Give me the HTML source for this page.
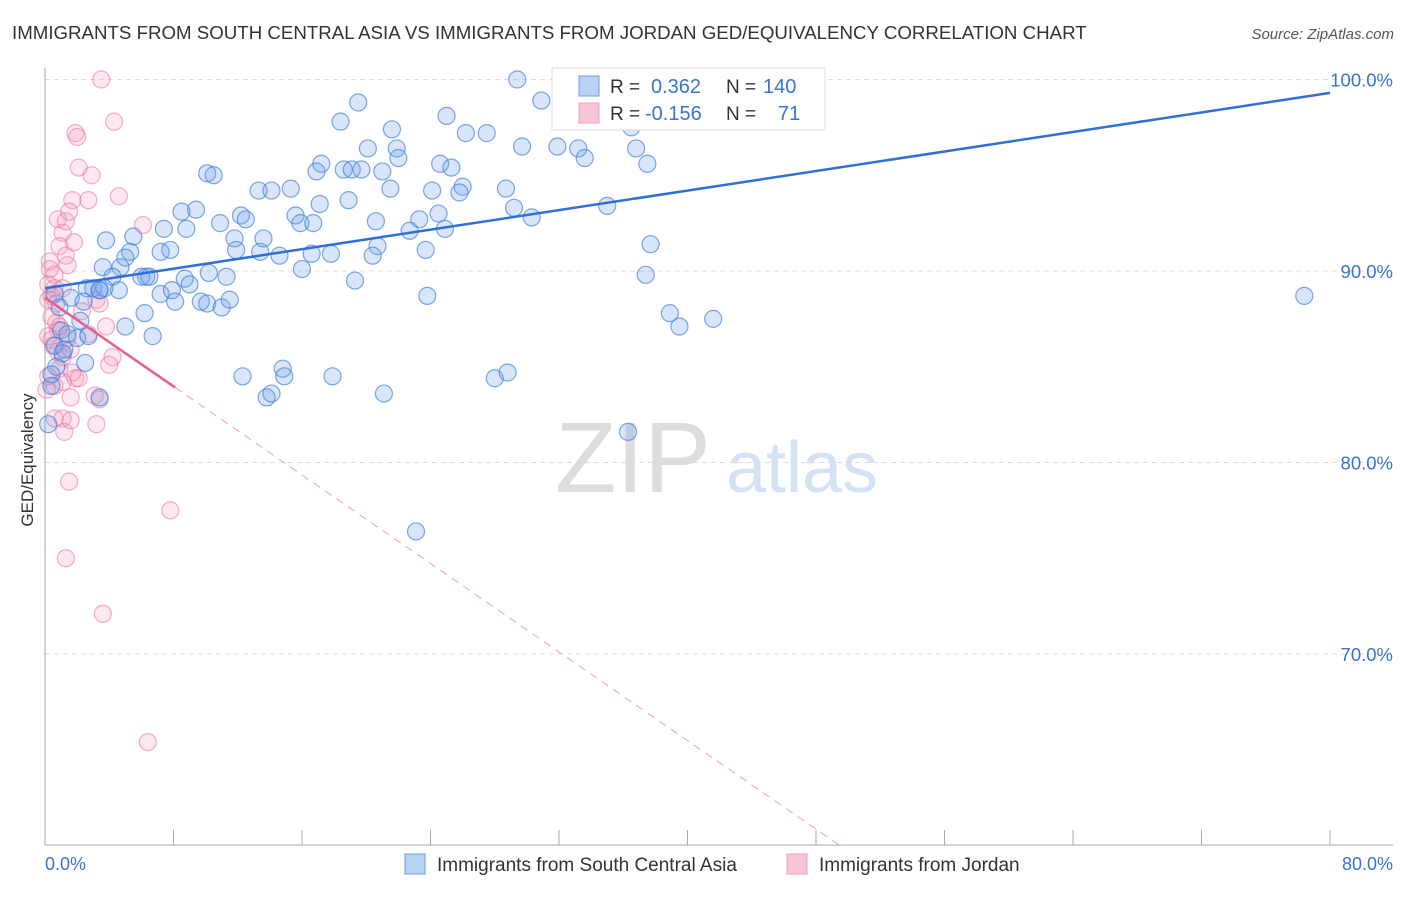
<!DOCTYPE html>
<html><head><meta charset="utf-8"><style>
body{margin:0;background:#fff;font-family:"Liberation Sans",sans-serif;}
svg text{font-family:"Liberation Sans",sans-serif;}
</style></head><body>
<svg id="chart" width="1406" height="892">
<text x="12" y="39" font-size="18.7" fill="#333">IMMIGRANTS FROM SOUTH CENTRAL ASIA VS IMMIGRANTS FROM JORDAN GED/EQUIVALENCY CORRELATION CHART</text>
<text x="1394" y="39" font-size="15" fill="#555" font-style="italic" text-anchor="end">Source: ZipAtlas.com</text>
<text x="33" y="460" font-size="17" fill="#333" text-anchor="middle" transform="rotate(-90 33 460)">GED/Equivalency</text>
<g>
<text x="633" y="492" font-size="100" fill="#ddd" font-family="Liberation Serif" text-anchor="middle">ZIP</text>
<text x="802" y="492" font-size="72" fill="#d4e2f5" text-anchor="middle">atlas</text>
</g>
<g id="grid"></g><g id="axes"></g><g id="pink"></g><g id="blue"></g><g id="lines"></g>
<g>
<rect x="552" y="68" width="273" height="62" fill="#fff" stroke="#ddd"/>
<rect x="579" y="76" width="20" height="20" fill="#b8d2f4" stroke="#6a9fe0"/>
<rect x="579" y="103" width="20" height="20" fill="#f8c6d5" stroke="#f0a0bb"/>
<text x="610" y="93" font-size="19" fill="#333">R =</text><text x="651" y="93" font-size="20" fill="#3a74d0">0.362</text>
<text x="726" y="93" font-size="19" fill="#333">N =</text><text x="763" y="93" font-size="20" fill="#3a74d0">140</text>
<text x="610" y="120" font-size="19" fill="#333">R =</text><text x="645" y="120" font-size="20" fill="#3a74d0">-0.156</text>
<text x="726" y="120" font-size="19" fill="#333">N =</text><text x="778" y="120" font-size="20" fill="#3a74d0">71</text>
</g>
<g>
<rect x="405" y="854" width="20" height="20" fill="#b8d2f4" stroke="#6a9fe0"/>
<text x="437" y="871" font-size="19" fill="#333">Immigrants from South Central Asia</text>
<rect x="787" y="854" width="20" height="20" fill="#f8c6d5" stroke="#f0a0bb"/>
<text x="819" y="871" font-size="19" fill="#333">Immigrants from Jordan</text>
</g>
</svg>
<script>
const blueX=[29.4,30.9,19.5,25.0,18.4,21.6,26.2,27.5,29.7,31.9,33.2,33.6,36.5,36.8,37.5,20.1,21.9,22.0,17.2,16.9,18.6,19.1,19.7,21.0,24.6,25.3,10.1,10.5,13.3,14.1,15.3,21.5,24.1,26.0,25.8,28.7,29.2,30.3,35.0,18.9,17.1,8.5,9.4,12.2,12.5,10.9,15.6,15.9,16.7,20.6,23.3,24.5,24.9,22.7,23.7,20.7,20.4,17.8,16.6,14.6,13.4,13.6,11.8,11.9,7.4,8.8,5.5,3.8,5.3,5.0,4.7,3.6,7.2,7.8,8.7,10.2,11.3,16.0,19.3,23.8,37.7,37.4,78.4,38.9,39.5,41.6,6.0,6.3,6.5,4.2,4.6,2.6,3.0,3.4,3.7,1.6,2.4,7.2,7.9,9.0,8.1,9.7,10.1,11.0,11.5,6.2,5.0,6.7,2.2,1.0,1.4,2.0,2.7,0.6,1.1,2.5,0.7,0.4,0.4,0.2,12.3,14.8,14.9,13.8,14.1,17.9,21.1,28.0,28.8,23.1,36.3,3.4,3.4,0.6,0.9,1.2];
const blueY=[100.0,98.9,98.8,98.1,97.8,97.4,97.2,97.2,96.5,96.5,96.4,95.9,97.5,96.4,95.6,96.4,96.4,95.9,95.6,95.2,95.3,95.3,95.3,95.2,95.6,95.4,95.1,95.0,94.2,94.2,94.3,94.3,94.2,94.4,94.1,94.3,93.3,92.8,93.4,93.7,93.5,93.1,93.2,92.9,92.7,92.5,92.9,92.5,92.5,92.6,92.7,93.0,92.2,92.1,91.1,91.3,90.8,90.9,90.9,90.8,91.0,91.7,91.7,91.1,92.2,92.2,91.8,91.6,91.0,90.7,90.2,90.2,91.0,91.1,89.6,89.9,89.7,90.1,89.5,88.7,91.4,89.8,88.7,87.8,87.1,87.5,89.7,89.7,89.7,89.7,89.0,89.1,89.1,89.0,89.1,88.6,88.4,88.8,89.0,89.3,88.4,88.4,88.3,88.1,88.5,87.8,87.1,86.6,87.4,86.9,86.7,86.5,86.6,86.1,85.7,85.2,85.0,84.6,84.0,82.0,84.5,84.9,84.5,83.4,83.6,84.5,83.6,84.4,84.7,76.4,81.6,83.4,89.0,88.8,88.1,85.9];
const pinkX=[3.5,4.3,1.9,2.0,2.1,2.9,4.6,1.7,2.7,6.1,0.8,1.3,1.5,1.1,0.9,1.3,0.3,1.4,0.6,0.2,0.6,1.1,0.2,0.4,0.7,3.2,3.4,0.4,0.7,0.8,0.2,0.4,1.4,2.7,3.8,0.5,0.8,1.1,1.6,4.2,4.0,0.9,1.7,1.9,2.1,0.2,0.6,1.1,3.1,3.4,1.6,0.6,1.1,1.2,1.6,3.2,1.5,7.8,1.3,3.6,6.4,1.8,0.1,0.3,2.3,0.9];
const pinkY=[100.0,97.8,97.2,97.0,95.4,95.0,93.9,93.7,93.7,92.4,92.7,92.6,93.1,92.0,91.3,90.8,90.5,90.3,89.8,89.3,89.1,89.1,88.5,88.7,88.3,88.5,88.3,87.6,87.3,86.9,86.6,86.4,86.5,86.7,87.1,86.1,85.8,85.5,85.9,85.5,85.1,84.9,84.7,84.4,84.4,84.5,84.0,84.2,83.5,83.3,83.4,82.3,82.3,81.6,82.2,82.0,79.0,77.5,75.0,72.1,65.4,91.5,83.8,90.1,87.9,87.1];
const yTicks=[100,90,80,70];
const xTicks=[0,10,20,30,40,50,60,70,80];
const blueFit=[89.1,99.3];
const pinkFit=[88.6,-0.578];
const NS='http://www.w3.org/2000/svg';
const sx=v=>45+v*(1285/80);
const sy=v=>79.5+(100-v)*19.15;
function mk(tag,attrs,parent){const e=document.createElementNS(NS,tag);for(const k in attrs)e.setAttribute(k,attrs[k]);parent.appendChild(e);return e;}
const grid=document.getElementById('grid'),axes=document.getElementById('axes');
yTicks.forEach(t=>{
 const l=mk('line',{x1:45,x2:1393,y1:sy(t),y2:sy(t),stroke:'#ddd','stroke-dasharray':'5,4'},grid);
 
 
 const tx=mk('text',{x:1393,y:sy(t)+7,'font-size':18.5,fill:'#3a74d0','text-anchor':'end'},axes);
 tx.textContent=t.toFixed(1)+'%';
 
 
});
const ya=mk('line',{x1:45,x2:45,y1:68,y2:845,stroke:'#aaa'},axes);


const xa=mk('line',{x1:45,x2:1393,y1:845,y2:845,stroke:'#aaa'},axes);


for(let i=0;i<=10;i++){const x=45+i*128.5;const tk=mk('line',{x1:x,x2:x,y1:830,y2:845,stroke:'#aaa'},axes);
 
 }
[[0,'start',45],[80,'end',1393]].forEach(([v,a,x])=>{const t=mk('text',{x:x,y:870,'font-size':18,fill:'#3a74d0','text-anchor':a},axes);t.textContent=v.toFixed(1)+'%';
 
 });
const pg=document.getElementById('pink');
pinkX.forEach((x,i)=>{const c=mk('circle',{cx:sx(x),cy:sy(pinkY[i]),r:8.5,fill:'rgba(244,150,180,0.22)',stroke:'rgba(236,120,160,0.6)','stroke-width':1.2},pg);
 
 });
const bg=document.getElementById('blue');
blueX.forEach((x,i)=>{const c=mk('circle',{cx:sx(x),cy:sy(blueY[i]),r:8.5,fill:'rgba(110,160,230,0.26)',stroke:'rgba(70,130,220,0.7)','stroke-width':1.2},bg);
 
 });
const lg=document.getElementById('lines');
const bl=mk('line',{x1:sx(0),y1:sy(blueFit[0]),x2:sx(80),y2:sy(blueFit[1]),stroke:'#2f6fd6','stroke-width':2.5},lg);


const pf=x=>pinkFit[0]+pinkFit[1]*x;
const pl=mk('line',{x1:sx(0),y1:sy(pf(0)),x2:sx(8.1),y2:sy(pf(8.1)),stroke:'#e8608a','stroke-width':2.5},lg);


const xe=(60-pinkFit[0])/pinkFit[1];
const pd=mk('line',{x1:sx(8.1),y1:sy(pf(8.1)),x2:sx(xe),y2:sy(60),stroke:'#f0a0bb','stroke-width':1,'stroke-dasharray':'8,6'},lg);


</script>
</body></html>
